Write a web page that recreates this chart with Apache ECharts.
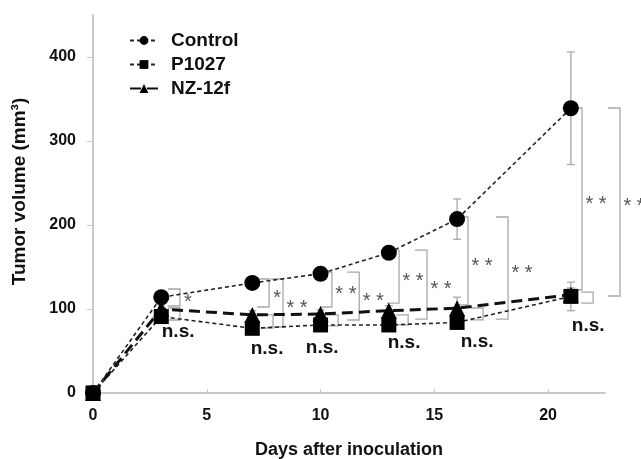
<!DOCTYPE html>
<html>
<head>
<meta charset="utf-8">
<script src="https://cdn.jsdelivr.net/npm/echarts@6/dist/echarts.min.js"></script>
<style>html,body{margin:0;padding:0;background:#fff}#c{width:641px;height:459px}</style>
</head>
<body>
<div id="c"></div>
<script>
// ---- data ----
const days = [0, 3, 7, 10, 13, 16, 21];
const control = [0, 114, 131, 142, 167, 207, 339];
const controlErr = [0, 6, 6, 5, 7, 24, 67];
const p1027 = [0, 91, 77, 81, 81, 84, 115];
const p1027Err = [0, 5, 5, 5, 5, 6, 17];
const nz12f = [0, 100, 93, 94, 98, 101, 117];
const nz12fErr = [0, 5, 5, 5, 6, 13, 8];
const seriesNames = ['Control', 'P1027', 'NZ-12f'];
const xTicks = [0, 5, 10, 15, 20];
const yTicks = [0, 100, 200, 300, 400];

// significance brackets (data units)
const bracketX = [3.82, 3.82, 7.74, 8.35, 7.91, 10.5, 11.7, 10.77, 13.45, 14.68, 13.85, 16.48, 18.24, 17.14, 21.49, 23.16, 21.98];
const bracketTop = [123.8, 101.2, 135.7, 135.7, 92.9, 144, 144, 92.9, 170.2, 170.2, 92.9, 209.5, 209.5, 101.2, 339.3, 339.3, 120.2];
const bracketBottom = [103.6, 86.9, 102.4, 78.6, 77.4, 102.4, 86.9, 79.8, 107, 88, 81, 104.8, 88, 87, 122.6, 115.5, 107];
const bracketText = ['*', '', '*', '* *', '', '* *', '* *', '', '* *', '* *', '', '* *', '* *', '', '* *', '* *', ''];
// "n.s." labels (data units)
const nsX = [3.74, 7.65, 10.07, 13.67, 16.88, 21.76];
const nsY = [72.6, 52.4, 53.6, 59.5, 60.7, 79.8];

// ---- chart ----
const FONT = '"Liberation Sans", Arial, Helvetica, sans-serif';
const chart = echarts.init(document.getElementById('c'), null, {renderer: 'canvas'});

function pairs(ys) { return days.map((d, i) => [d, ys[i]]); }
function errData(ys, es) { return days.map((d, i) => [d, ys[i] - es[i], ys[i] + es[i]]); }

function errSeries(ys, es) {
  return {
    type: 'custom', silent: true, z: 1,
    data: errData(ys, es),
    renderItem: function (params, api) {
      const lo = api.coord([api.value(0), api.value(1)]);
      const hi = api.coord([api.value(0), api.value(2)]);
      const c = 4;
      const st = {stroke: '#a8a8a8', lineWidth: 1.3, fill: null};
      return {type: 'group', children: [
        {type: 'line', shape: {x1: lo[0], y1: lo[1], x2: hi[0], y2: hi[1]}, style: st},
        {type: 'line', shape: {x1: lo[0] - c, y1: lo[1], x2: lo[0] + c, y2: lo[1]}, style: st},
        {type: 'line', shape: {x1: hi[0] - c, y1: hi[1], x2: hi[0] + c, y2: hi[1]}, style: st}
      ]};
    }
  };
}

const bracketData = bracketX.map((x, i) => [x, bracketTop[i], bracketBottom[i]]);
const nsData = nsX.map((x, i) => [x, nsY[i]]);

const option = {
  animation: false,
  backgroundColor: '#fff',
  grid: {left: 93, right: 36, top: 15, bottom: 66, containLabel: false, outerBoundsMode: 'none'},
  legend: {
    data: seriesNames,
    orient: 'vertical',
    left: 124, top: 26,
    itemWidth: 28, itemHeight: 11, itemGap: 5,
    textStyle: {fontFamily: FONT, fontWeight: 'bold', fontSize: 19, color: '#111', padding: [0, 0, 0, 8]}
  },
  xAxis: {
    type: 'value', min: 0, max: 22.5, interval: 5,
    name: 'Days after inoculation', nameLocation: 'middle', nameGap: 48,
    nameTextStyle: {fontFamily: FONT, fontWeight: 'bold', fontSize: 18, color: '#111'},
    axisLine: {onZero: false, lineStyle: {color: '#c9c9c9', width: 2}},
    axisTick: {inside: true, length: 4, lineStyle: {color: '#c9c9c9'}},
    splitLine: {show: false},
    axisLabel: {margin: 15, fontFamily: FONT, fontWeight: 'bold', fontSize: 16, color: '#111',
      showMaxLabel: false,
      formatter: v => (xTicks.indexOf(v) >= 0 ? String(v) : '')}
  },
  yAxis: {
    type: 'value', min: 0, max: 450, interval: 100,
    name: 'Tumor volume (mm³)', nameLocation: 'middle', nameGap: 64, nameRotate: 90,
    nameTextStyle: {fontFamily: FONT, fontWeight: 'bold', fontSize: 19, color: '#111', padding: [0, 0, 0, 25]},
    axisLine: {show: true, onZero: false, lineStyle: {color: '#c9c9c9', width: 2}},
    axisTick: {show: true, length: 6, lineStyle: {color: '#c9c9c9'}},
    splitLine: {show: false},
    axisLabel: {margin: 17, fontFamily: FONT, fontWeight: 'bold', fontSize: 16, color: '#111',
      showMaxLabel: false,
      formatter: v => (yTicks.indexOf(v) >= 0 ? String(v) : '')}
  },
  series: [
    errSeries(control, controlErr),
    errSeries(p1027, p1027Err),
    errSeries(nz12f, nz12fErr),
    {
      name: 'P1027', type: 'line', z: 3, data: pairs(p1027),
      symbol: 'rect', symbolSize: 15,
      itemStyle: {color: '#000'},
      lineStyle: {color: '#222', width: 1.6, type: [4, 3]}
    },
    {
      name: 'NZ-12f', type: 'line', z: 3, data: pairs(nz12f),
      symbol: 'triangle', symbolSize: 16,
      itemStyle: {color: '#000'},
      lineStyle: {color: '#111', width: 3, type: [11, 6]}
    },
    {
      name: 'Control', type: 'line', z: 4, data: pairs(control),
      symbol: 'circle', symbolSize: 16,
      itemStyle: {color: '#000'},
      lineStyle: {color: '#222', width: 1.6, type: [4, 3]}
    },
    {
      type: 'custom', silent: true, z: 2, clip: false,
      data: bracketData,
      renderItem: function (params, api) {
        const t = api.coord([api.value(0), api.value(1)]);
        const b = api.coord([api.value(0), api.value(2)]);
        const w = 12;
        const txt = bracketText[params.dataIndex];
        const children = [{
          type: 'polyline',
          shape: {points: [[t[0] - w, t[1]], [t[0], t[1]], [b[0], b[1]], [b[0] - w, b[1]]]},
          style: {stroke: '#a8a8a8', lineWidth: 1.3, fill: null}
        }];
        if (txt) {
          children.push({
            type: 'text',
            style: {
              text: txt, x: t[0] + (txt.length > 1 ? 14 : 8), y: (t[1] + b[1]) / 2 + 5,
              align: 'center', verticalAlign: 'middle',
              font: '20px ' + FONT, fill: '#555'
            }
          });
        }
        return {type: 'group', children: children};
      }
    },
    {
      type: 'custom', silent: true, z: 5, clip: false,
      data: nsData,
      renderItem: function (params, api) {
        const p = api.coord([api.value(0), api.value(1)]);
        return {
          type: 'text',
          style: {text: 'n.s.', x: p[0], y: p[1], align: 'center', verticalAlign: 'middle',
            font: 'bold 19px ' + FONT, fill: '#111'}
        };
      }
    }
  ]
};
chart.setOption(option);
</script>
</body>
</html>
